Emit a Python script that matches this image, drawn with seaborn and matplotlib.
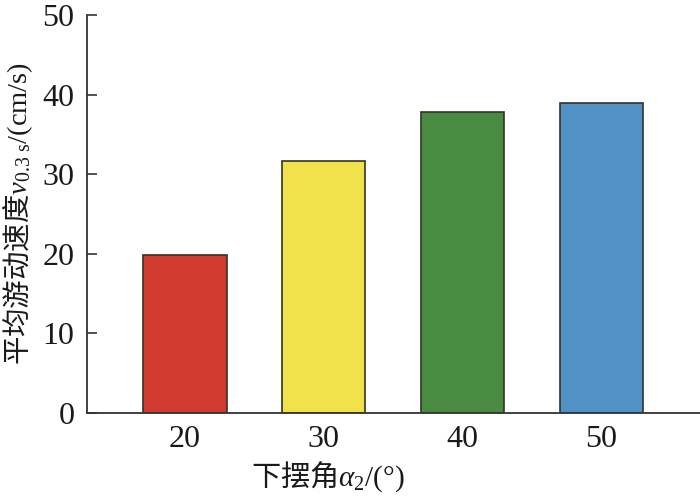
import matplotlib
matplotlib.use("Agg")
import matplotlib.pyplot as plt
import seaborn as sns
import pandas as pd

categories = ["20", "30", "40", "50"]
values = [19.9, 31.6, 37.8, 38.9]
colors = ["#D13A2F", "#F1E14A", "#4A8B42", "#5291C6"]
yticks = [0, 10, 20, 30, 40, 50]

sns.set_theme(style="ticks")
plt.rcParams["font.family"] = ["Liberation Serif", "Noto Sans CJK SC"]
plt.rcParams["mathtext.fontset"] = "custom"
plt.rcParams["mathtext.rm"] = "Liberation Serif"
plt.rcParams["mathtext.it"] = "Liberation Serif:italic"

df = pd.DataFrame({"angle": categories, "speed": values})

fig = plt.figure(figsize=(7.0, 5.04), dpi=100)
ax = fig.add_axes([0.124, 0.181, 0.876, 0.789])
sns.barplot(data=df, x="angle", y="speed", hue="angle", palette=colors,
            saturation=1, width=0.6, edgecolor="#333325", linewidth=1.2,
            legend=False, ax=ax)

ax.set_xlim(-0.707, 3.71)
ax.set_ylim(0, 50)
ax.set_yticks(yticks)
ax.set_yticklabels([str(t) for t in yticks])
for s in ["top", "right"]:
    ax.spines[s].set_visible(False)
for s in ["left", "bottom"]:
    ax.spines[s].set_color("#333333")
    ax.spines[s].set_linewidth(1.3)
ax.tick_params(axis="y", direction="in", length=7, width=1.2, color="#333333",
               labelsize=23, pad=9, labelcolor="#1a1a1a")
ax.tick_params(axis="x", length=0, labelsize=23, pad=9, labelcolor="#1a1a1a")

ax.set_xlabel(r"下摆角$\alpha_2\mathrm{/(°)}$", fontsize=21,
              family=["Noto Sans CJK SC"], color="#1a1a1a")
ax.set_ylabel(r"平均游动速度$v_{\mathrm{0.3\ s}}\mathrm{/(cm/s)}$", fontsize=20.5,
              family=["Noto Sans CJK SC"], color="#1a1a1a")
ax.xaxis.set_label_coords((328 - 87) / 613, -0.118)
ax.yaxis.set_label_coords(-0.084, 0.5)

fig.savefig("out.png", dpi=100)
